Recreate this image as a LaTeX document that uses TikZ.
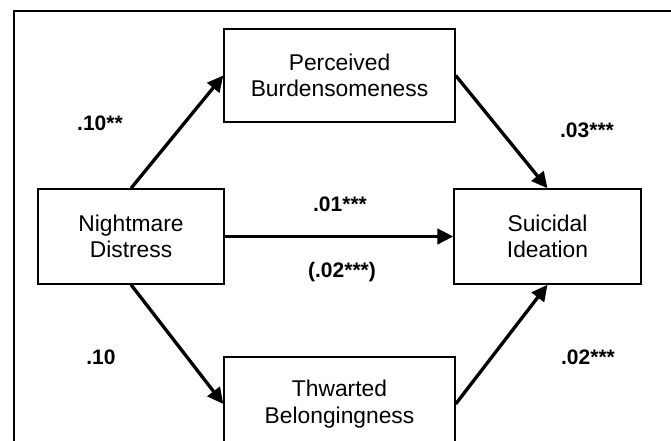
\documentclass[tikz,border=0pt]{standalone}
\usepackage{fontspec}
\setmainfont{Liberation Sans}
\usetikzlibrary{positioning,arrows.meta}

\begin{document}
\begin{tikzpicture}[x=0.75pt, y=-0.75pt,
  varbox/.style={draw, line width=1.3pt, inner sep=0pt, align=center,
    font=\fontsize{17.1}{20}\selectfont},
  effect/.style={line width=2.5pt, -{Triangle[length=12pt,width=11.5pt]}},
  coef/.style={anchor=base, font=\fontsize{15.75}{18}\selectfont\bfseries}]
  \useasboundingbox (0,0) rectangle (671,441);
  \clip (0,0) rectangle (671,441);

  % outer frame (cropped on the right and bottom)
  \draw[line width=1.1pt] (14,460) |- (690,11);

  % variables
  \node[varbox, minimum width=140pt, minimum height=71pt] (nightDist) at (131,236.5) {Nightmare\\Distress};
  \node[varbox, minimum width=173pt, minimum height=70pt] (percBurd) at (339.5,75.5) {Perceived\\Burdensomeness};
  \node[varbox, minimum width=140pt, minimum height=71pt] (suiIdea) at (547.5,236.5) {Suicidal\\Ideation};
  \node[varbox, minimum width=173pt, minimum height=70pt] (thwBelong) at (339.5,404) {Thwarted\\Belongingness};

  % paths
  \draw[effect] (nightDist.north) -- (percBurd.west);
  \draw[effect] (percBurd.east) -- (suiIdea.north);
  \draw[effect] (nightDist.east) -- (suiIdea.west);
  \draw[effect] (nightDist.south) -- (thwBelong.west);
  \draw[effect] (thwBelong.east) -- (suiIdea.south);

  % coefficients
  \node[coef] (coefA1) at (100,131) {.10**};
  \node[coef] (coefB1) at (587,138) {.03***};
  \node[coef] (coefC) at (340,212) {.01***};
  \node[coef] (coefCtot) at (342,278) {(.02***)};
  \node[coef] (coefA2) at (101,365) {.10};
  \node[coef] (coefB2) at (588,365) {.02***};
\end{tikzpicture}
\end{document}
